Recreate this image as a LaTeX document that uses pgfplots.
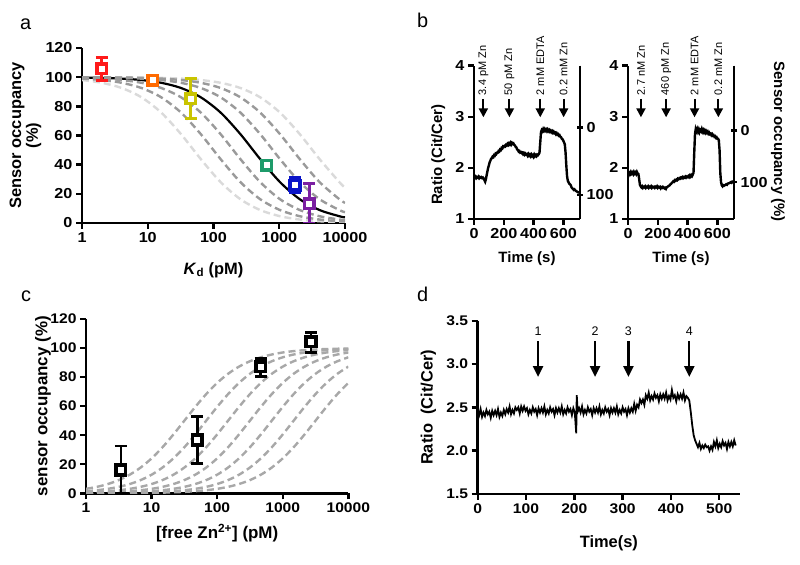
\documentclass[border=0pt]{standalone}
\usepackage{fontspec}
\setmainfont{Liberation Sans}
\newfontfamily\tickN{Liberation Sans}[FakeStretch=1.12]
\usepackage{pgfplots}
\usepackage{pgfplotstable}
\pgfplotsset{compat=1.18}
\usetikzlibrary{arrows.meta}

\newcommand\fs[1]{\fontsize{#1}{#1}\selectfont}

\definecolor{cRed}{HTML}{FF1A1A}
\definecolor{cOrange}{HTML}{FF6A00}
\definecolor{cYellow}{HTML}{C9C400}
\definecolor{cGreen}{HTML}{1E9B6A}
\definecolor{cBlue}{HTML}{0A14C8}
\definecolor{cPurple}{HTML}{7B1FA2}
\definecolor{lgray}{HTML}{DADADA}
\definecolor{dgray}{HTML}{9A9A9A}
\definecolor{cgray}{HTML}{A8A8A8}

% panel a: occupancy vs Kd for free Zn = 50 ... 3200 pM
\pgfplotstableread{
K     z50   z100  z200  z400  z800  z1600 z3200
1     98.04 99.01 99.50 99.75 99.88 99.94 99.97
2     96.15 98.04 99.01 99.50 99.75 99.88 99.94
4     92.59 96.15 98.04 99.01 99.50 99.75 99.88
8     86.21 92.59 96.15 98.04 99.01 99.50 99.75
16    75.76 86.21 92.59 96.15 98.04 99.01 99.50
32    60.98 75.76 86.21 92.59 96.15 98.04 99.01
64    43.86 60.98 75.76 86.21 92.59 96.15 98.04
128   28.09 43.86 60.98 75.76 86.21 92.59 96.15
256   16.34 28.09 43.86 60.98 75.76 86.21 92.59
512   8.90  16.34 28.09 43.86 60.98 75.76 86.21
1024  4.66  8.90  16.34 28.09 43.86 60.98 75.76
2048  2.38  4.66  8.90  16.34 28.09 43.86 60.98
4096  1.21  2.38  4.66  8.90  16.34 28.09 43.86
8192  0.61  1.21  2.38  4.66  8.90  16.34 28.09
10000 0.50  0.99  1.96  3.85  7.41  13.79 24.24
}\tabA

% panel c: occupancy vs free Zn for sensors of different Kd
\pgfplotstableread{
Z     k0    k1    k2    k3    k4    k5    k6
1     3.07  1.45  0.68  0.32  0.15  0.07  0.03
1.468 4.44  2.11  0.99  0.46  0.22  0.10  0.05
2.154 6.38  3.07  1.45  0.68  0.32  0.15  0.07
3.162 9.09  4.44  2.11  0.99  0.46  0.22  0.10
4.642 12.80 6.38  3.07  1.45  0.68  0.32  0.15
6.813 17.73 9.09  4.44  2.11  0.99  0.46  0.22
10    24.03 12.80 6.38  3.07  1.45  0.68  0.32
14.68 31.70 17.73 9.09  4.44  2.11  0.99  0.46
21.54 40.52 24.03 12.80 6.38  3.07  1.45  0.68
31.62 50.00 31.70 17.73 9.09  4.44  2.11  0.99
46.42 59.48 40.52 24.03 12.80 6.38  3.07  1.45
68.13 68.30 50.00 31.70 17.73 9.09  4.44  2.11
100   75.98 59.48 40.52 24.03 12.80 6.38  3.07
146.8 82.28 68.30 50.00 31.70 17.73 9.09  4.44
215.4 87.20 75.98 59.48 40.52 24.03 12.80 6.38
316.2 90.91 82.28 68.30 50.00 31.70 17.73 9.09
464.2 93.62 87.20 75.98 59.48 40.52 24.03 12.80
681.3 95.56 90.91 82.28 68.30 50.00 31.70 17.73
1000  96.94 93.62 87.20 75.98 59.48 40.52 24.03
1468  97.90 95.56 90.91 82.28 68.30 50.00 31.70
2154  98.55 96.94 93.62 87.20 75.98 59.48 40.52
3162  99.01 97.90 95.56 90.91 82.28 68.30 50.00
4642  99.32 98.55 96.94 93.62 87.20 75.98 59.48
6813  99.54 99.01 97.90 95.56 90.91 82.28 68.30
10000 99.69 99.32 98.55 96.94 93.62 87.20 75.98
}\tabC

% panel b traces
\pgfplotstableread{
t r
0 1.83
5 1.81
10 1.83
15 1.80
20 1.82
25 1.81
30 1.83
35 1.80
40 1.82
45 1.81
50 1.82
55 1.80
60 1.81
65 1.79
70 1.76
75 1.73
80 1.78
85 1.86
90 1.93
95 2.00
100 2.05
105 2.11
110 2.14
115 2.18
120 2.19
125 2.22
130 2.21
135 2.25
140 2.24
145 2.28
150 2.27
155 2.30
160 2.30
165 2.33
170 2.32
175 2.36
180 2.35
185 2.39
190 2.38
195 2.42
200 2.41
205 2.43
210 2.42
215 2.45
220 2.44
225 2.47
230 2.45
235 2.48
240 2.46
245 2.49
250 2.46
255 2.49
260 2.47
265 2.48
270 2.45
275 2.44
280 2.41
285 2.40
290 2.36
295 2.35
300 2.32
305 2.33
310 2.30
315 2.31
320 2.29
325 2.30
330 2.27
335 2.29
340 2.26
345 2.28
350 2.26
355 2.27
360 2.24
365 2.27
370 2.24
375 2.26
380 2.23
385 2.26
390 2.23
395 2.25
400 2.22
405 2.26
410 2.23
415 2.25
420 2.23
425 2.26
430 2.25
435 2.27
440 2.30
445 2.50
450 2.70
455 2.74
460 2.72
465 2.76
470 2.73
475 2.76
480 2.73
485 2.75
490 2.72
495 2.75
500 2.72
505 2.74
510 2.71
515 2.73
520 2.70
525 2.72
530 2.69
535 2.71
540 2.68
545 2.69
550 2.66
555 2.68
560 2.65
565 2.66
570 2.63
575 2.64
580 2.61
585 2.60
590 2.57
595 2.56
600 2.53
605 2.50
610 2.46
615 2.30
620 2.05
625 1.84
630 1.75
635 1.72
640 1.69
645 1.68
650 1.66
655 1.62
660 1.60
665 1.59
670 1.57
675 1.58
680 1.56
685 1.55
690 1.54
695 1.53
700 1.52
705 1.52
710 1.51
}\tabBL

\pgfplotstableread{
t r
0 1.88
5 1.86
10 1.90
15 1.88
20 1.92
25 1.89
30 1.91
35 1.88
40 1.92
45 1.89
50 1.91
55 1.88
60 1.92
65 1.89
70 1.88
75 1.78
80 1.67
85 1.64
90 1.62
95 1.64
100 1.61
105 1.63
110 1.62
115 1.64
120 1.61
125 1.63
130 1.62
135 1.64
140 1.61
145 1.63
150 1.62
155 1.64
160 1.61
165 1.63
170 1.62
175 1.63
180 1.61
185 1.63
190 1.62
195 1.64
200 1.61
205 1.63
210 1.62
215 1.63
220 1.60
225 1.62
230 1.61
235 1.63
240 1.62
245 1.60
250 1.61
255 1.59
260 1.62
265 1.63
270 1.64
275 1.65
280 1.66
285 1.68
290 1.69
295 1.71
300 1.72
305 1.74
310 1.73
315 1.76
320 1.75
325 1.77
330 1.76
335 1.79
340 1.78
345 1.80
350 1.79
355 1.81
360 1.80
365 1.82
370 1.80
375 1.82
380 1.81
385 1.83
390 1.81
395 1.83
400 1.82
405 1.84
410 1.82
415 1.85
420 1.83
425 1.86
430 1.84
435 1.87
440 1.90
445 2.30
450 2.66
455 2.76
460 2.72
465 2.76
470 2.71
475 2.75
480 2.70
485 2.74
490 2.72
495 2.76
500 2.71
505 2.74
510 2.70
515 2.73
520 2.69
525 2.72
530 2.69
535 2.71
540 2.67
545 2.69
550 2.66
555 2.67
560 2.64
565 2.66
570 2.63
575 2.64
580 2.61
585 2.62
590 2.59
595 2.60
600 2.57
605 2.57
610 2.54
615 2.35
620 1.90
625 1.72
630 1.66
635 1.64
640 1.66
645 1.65
650 1.66
655 1.67
660 1.68
665 1.67
670 1.69
675 1.70
680 1.70
685 1.71
690 1.72
695 1.71
700 1.73
705 1.72
710 1.74
}\tabBR

% panel d trace
\pgfplotstableread{
t r
0 2.46
3 2.41
6 2.48
9 2.39
12 2.44
15 2.40
18 2.47
21 2.42
24 2.45
27 2.38
30 2.46
33 2.41
36 2.46
39 2.41
42 2.48
45 2.39
48 2.44
51 2.40
54 2.47
57 2.42
60 2.48
63 2.44
66 2.51
69 2.42
72 2.47
75 2.43
78 2.50
81 2.47
84 2.50
87 2.43
90 2.51
93 2.46
96 2.51
99 2.46
102 2.49
105 2.42
108 2.47
111 2.43
114 2.50
117 2.45
120 2.48
123 2.41
126 2.49
129 2.44
132 2.49
135 2.44
138 2.51
141 2.42
144 2.47
147 2.43
150 2.50
153 2.45
156 2.48
159 2.41
162 2.49
165 2.44
168 2.49
171 2.44
174 2.51
177 2.42
180 2.47
183 2.43
186 2.50
189 2.45
192 2.48
195 2.41
198 2.49
201 2.44
204 2.20
205 2.64
207 2.45
210 2.49
213 2.44
216 2.51
219 2.42
222 2.47
225 2.43
228 2.50
231 2.45
234 2.48
237 2.41
240 2.49
243 2.44
246 2.49
249 2.44
252 2.51
255 2.42
258 2.47
261 2.43
264 2.50
267 2.45
270 2.48
273 2.41
276 2.49
279 2.44
282 2.49
285 2.44
288 2.51
291 2.42
294 2.47
297 2.43
300 2.50
303 2.45
306 2.48
309 2.41
312 2.49
315 2.44
318 2.49
321 2.45
324 2.54
327 2.46
330 2.53
333 2.50
336 2.59
339 2.55
342 2.59
345 2.53
348 2.64
351 2.60
354 2.67
357 2.58
360 2.63
363 2.59
366 2.66
369 2.61
372 2.64
375 2.57
378 2.65
381 2.60
384 2.65
387 2.60
390 2.67
393 2.58
396 2.63
399 2.59
402 2.70
405 2.61
408 2.64
411 2.57
414 2.65
417 2.60
420 2.65
423 2.60
426 2.67
429 2.58
432 2.63
435 2.61
438 2.58
441 2.45
444 2.30
447 2.18
450 2.12
453 2.08
456 2.04
459 2.09
462 2.02
465 2.06
468 2.03
471 2.07
474 2.04
477 2.05
480 2.00
483 2.05
486 2.01
489 2.10
492 2.05
495 2.12
498 2.03
501 2.08
504 2.04
507 2.11
510 2.06
513 2.09
516 2.02
519 2.10
522 2.05
525 2.10
528 2.05
531 2.12
534 2.06
}\tabD

\pgfplotsset{
  prism/.style={
    scale only axis, anchor=south west,
    axis lines=left,
    axis line style={line width=2.6bp, -},
    every tick/.style={line width=2.4bp, black},
    tick align=outside,
    major tick length=6bp,
    minor tick length=0pt,
  },
  rightax/.style={
    axis x line=none, axis y line=right,
    axis line style={line width=2.6bp, -},
    y axis line style={-},
    every outer y axis line/.append style={-},
    every inner y axis line/.append style={-},
  },
  gdash/.style={line width=2.4bp, dash pattern=on 7bp off 4bp, smooth},
  ebar/.style={only marks, mark=none,
    error bars/.cd, y dir=both, y explicit,
    error bar style={line width=2.6bp, draw=#1},
    error mark options={rotate=90, line width=2.8bp, draw=#1, mark size=6bp}},
  sqm/.style={only marks, mark=square*, mark size=4.8bp,
    mark options={fill=white, draw=#1, line width=3.6bp}},
}
\tikzset{
  arr/.style={line width=2bp, -{Triangle[length=9bp, width=9bp]}},
  arrd/.style={line width=2.4bp, -{Triangle[length=11bp, width=10bp]}},
  note/.style={rotate=90, anchor=west, inner sep=0pt, font=\fs{11}},
}

\begin{document}
\begin{tikzpicture}
\useasboundingbox (0,0) rectangle (800bp,565bp);

% ---------- a ----------
\node[anchor=base west, inner sep=0pt, font=\fs{20}] at (20bp,535bp) {a};
\begin{axis}[prism, at={(82bp,342bp)}, width=263bp, height=175bp,
  xmode=log, xmin=1, xmax=10000, ymin=0, ymax=120,
  xtick={1,10,100,1000,10000}, xticklabels={1,10,100,1000,10000},
  ytick={0,20,40,60,80,100,120}, yticklabels={0,20,40,60,80,100,120},
  tick label style={font=\tickN\bfseries\fs{14.5}},
  xlabel={\textit{K}\textsubscript{d} (pM)},
  ylabel={Sensor occupancy\\(\%)},
  label style={font=\bfseries\fontsize{16.5}{17}\selectfont},
  xlabel style={at={(axis description cs:0.5,-0.269)}, anchor=center},
  ylabel style={at={(axis description cs:-0.215,0.5)}, anchor=center, align=center},
]
\addplot[black, line width=2.2bp, smooth] table[x=K, y=z400] {\tabA};
\addplot[lgray, gdash] table[x=K, y=z50] {\tabA};
\addplot[lgray, gdash] table[x=K, y=z3200] {\tabA};
\addplot[dgray, gdash] table[x=K, y=z100] {\tabA};
\addplot[dgray, gdash] table[x=K, y=z200] {\tabA};
\addplot[dgray, gdash] table[x=K, y=z800] {\tabA};
\addplot[dgray, gdash] table[x=K, y=z1600] {\tabA};
\addplot[ebar=cRed] coordinates {(2.0,105.8) += (0,7.6) -= (0,8.0)};
\addplot[ebar=cOrange] coordinates {(11.9,97.8) += (0,1.5) -= (0,1.5)};
\addplot[ebar=cYellow] coordinates {(45,85.3) += (0,13.7) -= (0,13.8)};
\addplot[ebar=cGreen] coordinates {(645,39.5) += (0,3.0) -= (0,3.0)};
\addplot[ebar=cBlue] coordinates {(1740,25.8) += (0,5.3) -= (0,5.2)};
\addplot[ebar=cPurple] coordinates {(2870,13.3) += (0,13.7) -= (0,13.3)};
\addplot[sqm=cRed] coordinates {(2.0,105.8)};
\addplot[sqm=cOrange] coordinates {(11.9,97.8)};
\addplot[sqm=cYellow] coordinates {(45,85.3)};
\addplot[sqm=cGreen] coordinates {(645,39.5)};
\addplot[sqm=cBlue] coordinates {(1740,25.8)};
\addplot[sqm=cPurple] coordinates {(2870,13.3)};
\end{axis}

% ---------- b ----------
\node[anchor=base west, inner sep=0pt, font=\fs{20}] at (417bp,537bp) {b};
\begin{axis}[prism, at={(474bp,346bp)}, width=106bp, height=153.3bp,
  xmin=0, xmax=712, ymin=1, ymax=4, clip=false,
  xtick={0,200,400,600}, xticklabels={0,200,400,600},
  ytick={1,2,3,4}, yticklabels={1,2,3,4},
  tick label style={font=\tickN\bfseries\fs{14.5}},
  xlabel={Time (s)}, ylabel={Ratio (Cit/Cer)},
  label style={font=\bfseries\fs{15}},
  xlabel style={at={(axis description cs:0.5,-0.256)}, anchor=center},
  ylabel style={at={(axis description cs:-0.337,0.42)}, anchor=center},
]
\addplot[black, line width=2.4bp] table {\tabBL};
\draw[arr] (axis cs:63,3.35) -- (axis cs:63,2.99);
\draw[arr] (axis cs:238,3.35) -- (axis cs:238,2.99);
\draw[arr] (axis cs:445,3.35) -- (axis cs:445,2.99);
\draw[arr] (axis cs:602,3.35) -- (axis cs:602,2.99);
\node[note] at (axis cs:63,3.42) {3.4 pM Zn};
\node[note] at (axis cs:238,3.42) {50 pM Zn};
\node[note] at (axis cs:445,3.42) {2 mM EDTA};
\node[note] at (axis cs:602,3.42) {0.2 mM Zn};
\end{axis}
\begin{axis}[prism, rightax, at={(474bp,346bp)}, width=106bp, height=153.3bp,
  xmin=0, xmax=712, ymin=-91.7, ymax=135.6, y dir=reverse,
  ytick={0,100}, yticklabels={0,100},
  tick label style={font=\tickN\bfseries\fs{14.5}},
]
\end{axis}

\begin{axis}[prism, at={(628bp,346bp)}, width=106bp, height=153.3bp,
  xmin=0, xmax=712, ymin=1, ymax=4, clip=false,
  xtick={0,200,400,600}, xticklabels={0,200,400,600},
  ytick={1,2,3,4}, yticklabels={1,2,3,4},
  tick label style={font=\tickN\bfseries\fs{14.5}},
  xlabel={Time (s)},
  label style={font=\bfseries\fs{15}},
  xlabel style={at={(axis description cs:0.5,-0.256)}, anchor=center},
]
\addplot[black, line width=2.4bp] table {\tabBR};
\draw[arr] (axis cs:87,3.35) -- (axis cs:87,2.99);
\draw[arr] (axis cs:256,3.35) -- (axis cs:256,2.99);
\draw[arr] (axis cs:447,3.35) -- (axis cs:447,2.99);
\draw[arr] (axis cs:607,3.35) -- (axis cs:607,2.99);
\node[note] at (axis cs:87,3.42) {2.7 nM Zn};
\node[note] at (axis cs:256,3.42) {460 pM Zn};
\node[note] at (axis cs:447,3.42) {2 mM EDTA};
\node[note] at (axis cs:607,3.42) {0.2 mM Zn};
\end{axis}
\begin{axis}[prism, rightax, at={(628bp,346bp)}, width=106bp, height=153.3bp,
  xmin=0, xmax=712, ymin=-125.7, ymax=171.3, y dir=reverse,
  ytick={0,100}, yticklabels={0,100},
  tick label style={font=\tickN\bfseries\fs{14.5}},
  ylabel={Sensor occupancy (\%)},
  label style={font=\bfseries\fs{15}},
  ylabel style={at={(axis description cs:1.415,0.504)}, anchor=center, rotate=180},
]
\end{axis}

% ---------- c ----------
\node[anchor=base west, inner sep=0pt, font=\fs{20}] at (21bp,263bp) {c};
\begin{axis}[prism, at={(86bp,71.7bp)}, width=262.3bp, height=174.3bp,
  xmode=log, xmin=1, xmax=10000, ymin=0, ymax=120,
  xtick={1,10,100,1000,10000}, xticklabels={1,10,100,1000,10000},
  ytick={0,20,40,60,80,100,120}, yticklabels={0,20,40,60,80,100,120},
  tick label style={font=\tickN\bfseries\fs{14}},
  xlabel={[free Zn\textsuperscript{2+}] (pM)},
  ylabel={sensor occupancy (\%)},
  label style={font=\bfseries\fs{17}},
  xlabel style={at={(axis description cs:0.5,-0.23)}, anchor=center},
  ylabel style={at={(axis description cs:-0.164,0.5)}, anchor=center},
]
\addplot[cgray, gdash] table[x=Z, y=k0] {\tabC};
\addplot[cgray, gdash] table[x=Z, y=k1] {\tabC};
\addplot[cgray, gdash] table[x=Z, y=k2] {\tabC};
\addplot[cgray, gdash] table[x=Z, y=k3] {\tabC};
\addplot[cgray, gdash] table[x=Z, y=k4] {\tabC};
\addplot[cgray, gdash] table[x=Z, y=k5] {\tabC};
\addplot[cgray, gdash] table[x=Z, y=k6] {\tabC};
\addplot[ebar=black] coordinates {
  (3.4,16.1) += (0,16.5) -= (0,16.1)
  (50,36.7) += (0,16.1) -= (0,16.1)
  (460,87.2) += (0,5.7) -= (0,6.9)
  (2700,104.4) += (0,6.4) -= (0,7.3)
};
\addplot[sqm=black] coordinates {(3.4,16.1) (50,36.7) (460,87.2) (2700,104.4)};
\end{axis}

% ---------- d ----------
\node[anchor=base west, inner sep=0pt, font=\fs{20}] at (417bp,263bp) {d};
\begin{axis}[prism, at={(477.7bp,71bp)}, width=262.3bp, height=173.3bp,
  xmin=0, xmax=543, ymin=1.5, ymax=3.5, clip=false,
  xtick={0,100,200,300,400,500}, xticklabels={0,100,200,300,400,500},
  ytick={1.5,2,2.5,3,3.5}, yticklabels={1.5,2.0,2.5,3.0,3.5},
  tick label style={font=\tickN\bfseries\fs{14}},
  xlabel={Time(s)}, ylabel={Ratio\ \ (Cit/Cer)},
  label style={font=\bfseries\fs{16.5}},
  xlabel style={at={(axis description cs:0.5,-0.284)}, anchor=center},
  ylabel style={at={(axis description cs:-0.188,0.5)}, anchor=center},
]
\addplot[black, line width=1.8bp] table {\tabD};
\draw[arrd] (axis cs:125,3.26) -- (axis cs:125,2.85);
\draw[arrd] (axis cs:243,3.26) -- (axis cs:243,2.85);
\draw[arrd] (axis cs:312,3.26) -- (axis cs:312,2.85);
\draw[arrd] (axis cs:438,3.26) -- (axis cs:438,2.85);
\node[font=\fs{12.5}, inner sep=0pt] at (axis cs:125,3.38) {1};
\node[font=\fs{12.5}, inner sep=0pt] at (axis cs:243,3.38) {2};
\node[font=\fs{12.5}, inner sep=0pt] at (axis cs:312,3.38) {3};
\node[font=\fs{12.5}, inner sep=0pt] at (axis cs:438,3.38) {4};
\end{axis}
\end{tikzpicture}
\end{document}
